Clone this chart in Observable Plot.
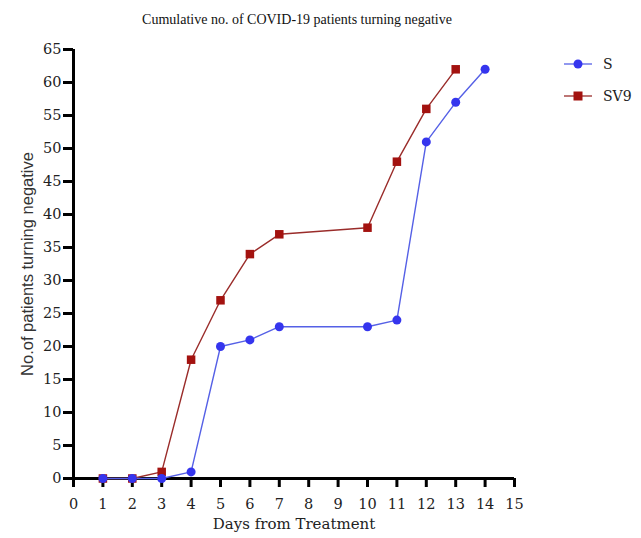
<!DOCTYPE html>
<html>
<head>
<meta charset="utf-8">
<script src="https://cdn.jsdelivr.net/npm/d3@7"></script>
<script src="https://cdn.jsdelivr.net/npm/@observablehq/plot@0.6"></script>
<style>
  body { margin: 0; background: #fff; }
  #wrap { position: relative; width: 641px; height: 538px; }
  #legend { position: absolute; left: 562px; top: 48px; font-family: "DejaVu Serif", serif; font-size: 14px; color: #222; }
  #legend .row { display: flex; align-items: center; height: 32px; }
  #legend svg { margin-right: 9px; }
</style>
</head>
<body>
<div id="wrap"><div id="legend"></div></div>
<script>
const days = [1, 2, 3, 4, 5, 6, 7, 10, 11, 12, 13, 14];
const sValues = [0, 0, 0, 1, 20, 21, 23, 23, 24, 51, 57, 62];
const sv9Days = [1, 2, 3, 4, 5, 6, 7, 10, 11, 12, 13];
const sv9Values = [0, 0, 1, 18, 27, 34, 37, 38, 48, 56, 62];
const seriesNames = ["S", "SV9"];
const xTicks = d3.range(0, 16);
const yTicks = d3.range(0, 66, 5);

const sData = days.map((d, i) => ({day: d, value: sValues[i]}));
const sv9Data = sv9Days.map((d, i) => ({day: d, value: sv9Values[i]}));

const blue = "#3535ee";
const blueLine = "#5560e6";
const red = "#a3120f";
const redLine = "#9a2c2a";
const serif = "DejaVu Serif, serif";

const chart = Plot.plot({
  width: 641,
  height: 538,
  marginLeft: 73,
  marginRight: 127,
  marginTop: 49,
  marginBottom: 60,
  style: {fontFamily: serif, background: "#fff", color: "#222"},
  x: {domain: [0, 15]},
  y: {domain: [0, 65]},
  marks: [
    Plot.axisY({ticks: yTicks, tickSize: 0, fontSize: 14.5, fontFamily: serif, tickPadding: 12, label: null, fill: "#222"}),
    Plot.axisX({ticks: xTicks, tickSize: 0, fontSize: 14.5, fontFamily: serif, tickPadding: 20, label: null, fill: "#222"}),
    Plot.ruleY(yTicks, {y: d => d, x1: () => 0, x2: () => 0, insetLeft: -10, stroke: "#000", strokeWidth: 3}),
    Plot.ruleX(xTicks, {x: d => d, y1: () => 0, y2: () => 0, insetBottom: -9, stroke: "#000", strokeWidth: 3}),
    Plot.ruleX([0], {stroke: "#000", strokeWidth: 3}),
    Plot.ruleY([0], {stroke: "#000", strokeWidth: 3}),
    Plot.line(sv9Data, {x: "day", y: "value", stroke: redLine, strokeWidth: 1.4}),
    Plot.line(sData, {x: "day", y: "value", stroke: blueLine, strokeWidth: 1.4}),
    Plot.dot(sv9Data, {x: "day", y: "value", symbol: "square", r: 4.8, fill: red, stroke: "none"}),
    Plot.dot(sData, {x: "day", y: "value", symbol: "circle", r: 4.5, fill: blue, stroke: "none"}),
    Plot.text(["Cumulative no. of COVID-19 patients turning negative"], {frameAnchor: "top", dy: -35, dx: 3, fontSize: 14, fontFamily: "Liberation Serif, serif", fill: "#111"}),
    Plot.text(["Days from Treatment"], {frameAnchor: "bottom", dy: 50, fontSize: 15, fontFamily: serif, fill: "#222"}),
    Plot.text(["No.of patients turning negative"], {frameAnchor: "left", textAnchor: "middle", rotate: -90, dx: -46, fontSize: 16.5, fontFamily: "Liberation Sans, Arial, sans-serif", fill: "#333"})
  ]
});
const wrap = document.getElementById("wrap");
wrap.insertBefore(chart, wrap.firstChild);

const legend = document.getElementById("legend");
const legendColors = [[blueLine, blue, "circle"], [redLine, red, "square"]];
seriesNames.forEach((name, i) => {
  const [lc, mc, shape] = legendColors[i];
  const row = document.createElement("div");
  row.className = "row";
  const marker = shape === "circle"
    ? `<circle cx="16" cy="8" r="4.5" fill="${mc}"/>`
    : `<rect x="11.5" y="3.5" width="9" height="9" fill="${mc}"/>`;
  row.innerHTML = `<svg width="32" height="16"><line x1="2" x2="30" y1="8" y2="8" stroke="${lc}" stroke-width="1.3"/>${marker}</svg><span>${name}</span>`;
  legend.appendChild(row);
});
</script>
</body>
</html>
